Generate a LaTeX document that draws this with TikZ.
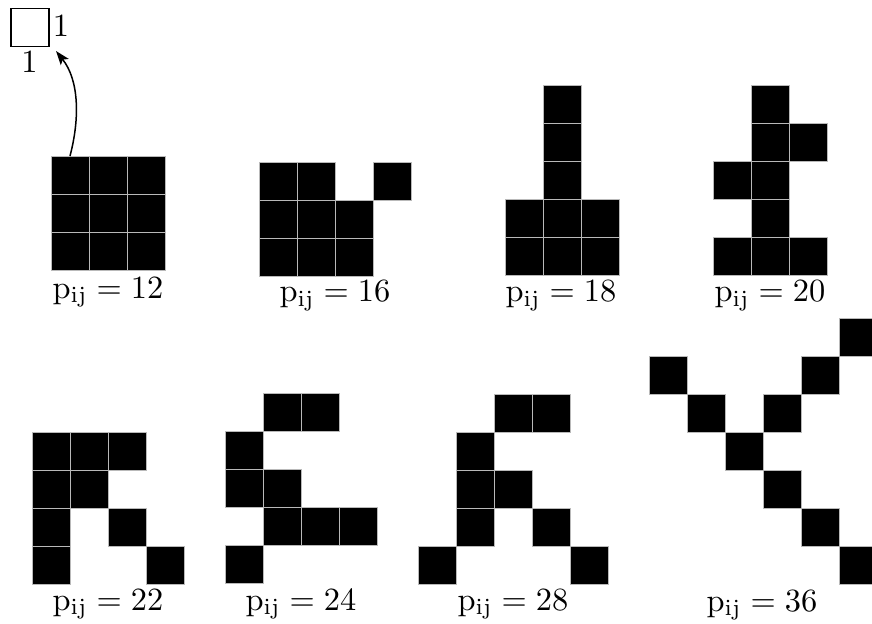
\documentclass[tikz,border=0pt]{standalone}
\usepackage{graphicx}
\usetikzlibrary{arrows.meta}
\tikzset{
  cell/.style={fill=black, draw=gray!55, line width=0.3pt},
  lab/.style={anchor=base, inner sep=0pt, font=\normalsize},
  unitbox/.style={draw=black, line width=0.7pt, minimum size=19pt, inner sep=0pt},
}
\newcommand{\mycells}[3]{%
  \foreach \cc/\rr in {#3} {\fill[cell] ({#1+\cc*38},{#2+\rr*38}) rectangle ++(38,38);}}
\newcommand{\enlg}[1]{\scalebox{1.62}{#1}}
\newcommand{\plab}[1]{\enlg{$\mathrm{p}_{\mathrm{ij}} = #1$}}
\begin{document}
\begin{tikzpicture}[x=0.5pt, y=-0.5pt]
\useasboundingbox (0,0) rectangle (872,623);
\begin{scope}
\clip (0,0) rectangle (872,623);
% unit square
\node[unitbox] (unit) at (29.8,27.5) {};
\node[lab] (u1) at (61,36) {\enlg{$1$}};
\node[lab] (u2) at (29.5,72) {\enlg{$1$}};
% shapes
\mycells{51}{156}{0/0,1/0,2/0,0/1,1/1,2/1,0/2,1/2,2/2}
\mycells{259}{162}{0/0,1/0,3/0,0/1,1/1,2/1,0/2,1/2,2/2}
\mycells{505}{85}{1/0,1/1,1/2,0/3,1/3,2/3,0/4,1/4,2/4}
\mycells{713}{85}{1/0,1/1,2/1,0/2,1/2,1/3,0/4,1/4,2/4}
\mycells{32}{432}{0/0,1/0,2/0,0/1,1/1,0/2,2/2,0/3,3/3}
\mycells{225}{393}{1/0,2/0,0/1,0/2,1/2,1/3,2/3,3/3,0/4}
\mycells{418}{394}{2/0,3/0,1/1,1/2,2/2,1/3,3/3,0/4,4/4}
\mycells{649}{318}{5/0,0/1,4/1,1/2,3/2,2/3,3/4,4/5,5/6}
\end{scope}
% arrow
\coordinate (s1top) at (70,156);
\coordinate (tip) at (56,51);
\draw[line width=0.75pt, -{Stealth[length=7pt,width=5pt,inset=1.5pt]}] (s1top) .. controls (80,118) and (79,80) .. (tip);
% labels
\node[lab] (l12) at (108,298) {\plab{12}};
\node[lab] (l16) at (335,301.5) {\plab{16}};
\node[lab] (l18) at (561,301.5) {\plab{18}};
\node[lab] (l20) at (770,301.5) {\plab{20}};
\node[lab] (l22) at (108,610) {\plab{22}};
\node[lab] (l24) at (301,610) {\plab{24}};
\node[lab] (l28) at (513,610) {\plab{28}};
\node[lab] (l36) at (762,611) {\plab{36}};
\end{tikzpicture}
\end{document}
